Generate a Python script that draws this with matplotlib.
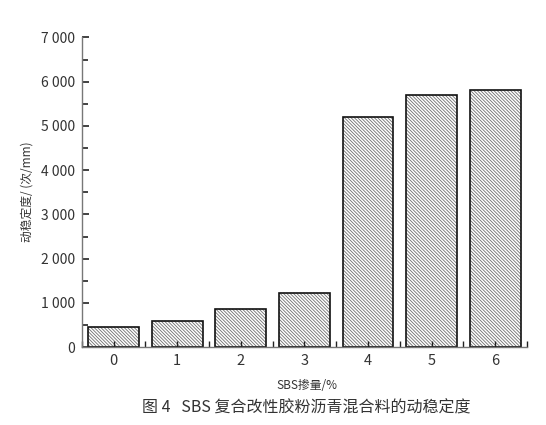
import matplotlib
matplotlib.use("Agg")
import matplotlib.pyplot as plt
from matplotlib.ticker import MultipleLocator, FuncFormatter, FixedLocator

plt.rcParams['font.family'] = ['Noto Sans CJK SC', 'DejaVu Sans']
plt.rcParams['hatch.linewidth'] = 0.6

categories = ['0', '1', '2', '3', '4', '5', '6']
values = [465, 594, 858, 1219, 5207, 5703, 5816]
yticks = [0, 1000, 2000, 3000, 4000, 5000, 6000, 7000]

fig = plt.figure(figsize=(5.46, 4.25), dpi=100)
ax = fig.add_axes([0.150, 0.183, 0.815, 0.729])

x = list(range(len(categories)))
ax.bar(x, values, width=0.8, color='white', edgecolor='#707070',
       hatch='\\' * 10, linewidth=0, zorder=1)
ax.bar(x, values, width=0.8, fill=False, edgecolor='#111111',
       linewidth=1.2, zorder=2)

ax.set_xlim(-0.5, 6.5)
ax.set_ylim(0, 7000)
ax.set_xticks(x)
ax.set_xticklabels(categories)
ax.xaxis.set_minor_locator(FixedLocator([i + 0.5 for i in range(-1, 7)]))
ax.set_yticks(yticks)
ax.yaxis.set_minor_locator(MultipleLocator(500))
ax.yaxis.set_major_formatter(FuncFormatter(lambda v, p: f"{int(v):,}".replace(',', ' ')))

for s in ['top', 'right']:
    ax.spines[s].set_visible(False)
for s in ['left', 'bottom']:
    ax.spines[s].set_color('#777777')
    ax.spines[s].set_linewidth(1.0)
    ax.spines[s].set_zorder(3)

ax.tick_params(axis='y', which='major', direction='in', length=5, width=1.2,
               color='#222222', labelsize=10, labelcolor='#333333', pad=5)
ax.tick_params(axis='y', which='minor', direction='in', length=4, width=1.2,
               color='#222222')
ax.tick_params(axis='x', which='major', direction='in', length=4, width=1.0,
               color='#222222', labelsize=10.5, labelcolor='#333333', pad=5)
ax.tick_params(axis='x', which='minor', direction='in', length=4, width=1.0,
               color='#222222')
for t in ax.xaxis.get_major_ticks() + ax.yaxis.get_major_ticks():
    t.tick1line.set_zorder(4)

fig.text(0.562, 0.0925, 'SBS掺量/%', ha='center', va='center',
         fontsize=8.5, color='#333333')
fig.text(0.049, 0.55, '动稳定度/ (次/mm)', ha='center', va='center',
         rotation=90, fontsize=8.5, color='#333333')
fig.text(0.560, 0.039, '图 4   SBS 复合改性胶粉沥青混合料的动稳定度',
         ha='center', va='center', fontsize=11.5, color='#333333')

fig.savefig('out.png', dpi=100)
